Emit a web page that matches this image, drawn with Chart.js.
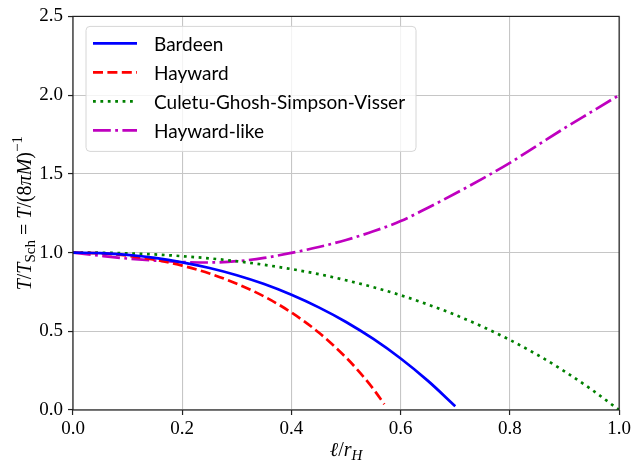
<!DOCTYPE html>
<html>
<head>
<meta charset="utf-8">
<script src="https://cdn.jsdelivr.net/npm/chart.js@4.4.0/dist/chart.umd.min.js"></script>
<style>
  html, body { margin: 0; padding: 0; background: #fff; }
</style>
</head>
<body>
<canvas id="tempChart" width="634" height="466"></canvas>
<script>
// l / r_H sample points
const xGrid = [0, 0.05, 0.1, 0.15, 0.2, 0.25, 0.3, 0.35, 0.4, 0.45, 0.5,
               0.55, 0.6, 0.65, 0.7, 0.75, 0.8, 0.85, 0.9, 0.95, 1.0];
const haywardX = [0, 0.05, 0.1, 0.15, 0.2, 0.25, 0.3, 0.35, 0.4, 0.45, 0.5, 0.525, 0.55, 0.57];

// T / T_Sch
const bardeenT  = [1.000, 0.996, 0.985, 0.966, 0.938, 0.902, 0.856, 0.800, 0.732, 0.652,
                   0.559, 0.451, 0.327, 0.185, 0.024];
const haywardT  = [1.000, 0.995, 0.980, 0.954, 0.917, 0.867, 0.802, 0.721, 0.619, 0.492,
                   0.333, 0.239, 0.133, 0.037];
const cgsvT     = [1.000, 0.999, 0.995, 0.988, 0.977, 0.963, 0.945, 0.922, 0.895, 0.863,
                   0.824, 0.780, 0.729, 0.670, 0.604, 0.529, 0.445, 0.351, 0.246, 0.129, 0.000];
const hlikeT    = [1.000, 0.980, 0.962, 0.949, 0.940, 0.937, 0.945, 0.966, 0.998, 1.035,
                   1.080, 1.135, 1.200, 1.285, 1.375, 1.470, 1.570, 1.680, 1.790, 1.895, 2.000];

const labels = ['Bardeen', 'Hayward', 'Culetu-Ghosh-Simpson-Visser', 'Hayward-like'];
const xTicks = [0, 0.2, 0.4, 0.6, 0.8, 1.0];
const yTicks = [0, 0.5, 1.0, 1.5, 2.0, 2.5];

const pts = (xv, yv) => yv.map((y, i) => ({ x: xv[i], y }));

const SERIF = '"Liberation Serif", "DejaVu Serif", serif';
const SANS  = 'Lato, "DejaVu Sans", sans-serif';

function line(label, data, color, dash) {
  return {
    label, data,
    borderColor: color,
    backgroundColor: color,
    borderWidth: 2.7,
    borderDash: dash,
    borderCapStyle: 'butt',
    pointRadius: 0,
    cubicInterpolationMode: 'monotone',
    fill: false
  };
}

// rich text helper: parts = [text, font, dy]
function richText(ctx, parts, x, y) {
  let w = 0;
  parts.forEach(p => { ctx.font = p[1]; w += ctx.measureText(p[0]).width; });
  let cx = x - w / 2;
  parts.forEach(p => {
    ctx.font = p[1];
    ctx.fillText(p[0], cx, y + (p[2] || 0));
    cx += ctx.measureText(p[0]).width;
  });
}

const decor = {
  id: 'decor',
  afterDraw(chart) {
    const { ctx, chartArea: a } = chart;
    ctx.save();
    // frame
    ctx.strokeStyle = '#222';
    ctx.lineWidth = 1.2;
    ctx.strokeRect(a.left, a.top, a.right - a.left, a.bottom - a.top);

    // axis titles
    ctx.fillStyle = '#000';
    ctx.textBaseline = 'alphabetic';
    const it = 'italic 20px ' + SERIF, rm = '20px ' + SERIF;
    const sm = '15px ' + SERIF, smi = 'italic 15px ' + SERIF;
    richText(ctx, [['ℓ', it], ['/', rm], ['r', it], ['H', smi, 4]], (a.left + a.right) / 2, 456);
    ctx.translate(31, (a.top + a.bottom) / 2);
    ctx.rotate(-Math.PI / 2);
    richText(ctx, [['T', it], ['/', rm], ['T', it], ['Sch', sm, 4], [' = ', rm], ['T', it],
                   ['/(8', rm], ['π', it], ['M', it], [')', rm], ['−1', sm, -9]], 0, 0);
    ctx.setTransform(1, 0, 0, 1, 0, 0);

    // legend
    const L = a.left + 13, T = a.top + 10, W = 330, H = 125, r = 4;
    ctx.beginPath();
    ctx.moveTo(L + r, T);
    ctx.arcTo(L + W, T, L + W, T + H, r);
    ctx.arcTo(L + W, T + H, L, T + H, r);
    ctx.arcTo(L, T + H, L, T, r);
    ctx.arcTo(L, T, L + W, T, r);
    ctx.closePath();
    ctx.fillStyle = 'rgba(255,255,255,0.8)';
    ctx.fill();
    ctx.strokeStyle = '#d6d6d6';
    ctx.lineWidth = 1;
    ctx.stroke();
    ctx.font = '19px ' + SANS;
    ctx.textBaseline = 'middle';
    chart.data.datasets.forEach((ds, i) => {
      const y = T + 17 + i * 29;
      ctx.strokeStyle = ds.borderColor;
      ctx.lineWidth = ds.borderWidth;
      ctx.setLineDash(ds.borderDash || []);
      ctx.beginPath();
      ctx.moveTo(L + 7, y);
      ctx.lineTo(L + 51, y);
      ctx.stroke();
      ctx.setLineDash([]);
      ctx.fillStyle = '#000';
      ctx.fillText(ds.label, L + 68, y + 1);
    });
    ctx.restore();
  }
};

new Chart(document.getElementById('tempChart'), {
  type: 'line',
  data: {
    datasets: [
      line(labels[0], pts(xGrid, bardeenT), '#0000ff', []),
      line(labels[1], pts(haywardX, haywardT), '#ff0000', [10, 4.4]),
      line(labels[2], pts(xGrid, cgsvT), '#008000', [2.8, 4.6]),
      line(labels[3], pts(xGrid, hlikeT), '#bf00bf', [17.8, 4.4, 2.8, 4.4])
    ]
  },
  options: {
    responsive: false,
    animation: false,
    layout: { padding: { left: 0, top: 15, right: 14, bottom: 0 } },
    plugins: { legend: { display: false }, tooltip: { enabled: false } },
    scales: {
      x: {
        type: 'linear', min: 0, max: 1,
        afterBuildTicks: s => { s.ticks = xTicks.map(v => ({ value: v })); },
        afterFit: s => { s.height = 56; },
        border: { display: false },
        grid: { color: '#c6c6c6', lineWidth: 1.1, tickLength: 5, tickColor: '#222', tickWidth: 1.2 },
        ticks: { color: '#000', font: { family: SERIF, size: 19 }, padding: 3,
                 maxRotation: 0, callback: v => v.toFixed(1) }
      },
      y: {
        min: 0, max: 2.5,
        afterBuildTicks: s => { s.ticks = yTicks.map(v => ({ value: v })); },
        afterFit: s => { s.width = 73; },
        border: { display: false },
        grid: { color: '#c6c6c6', lineWidth: 1.1, tickLength: 5, tickColor: '#222', tickWidth: 1.2 },
        ticks: { color: '#000', font: { family: SERIF, size: 19 }, padding: 5,
                 callback: v => v.toFixed(1) }
      }
    }
  },
  plugins: [decor]
});
</script>
</body>
</html>
